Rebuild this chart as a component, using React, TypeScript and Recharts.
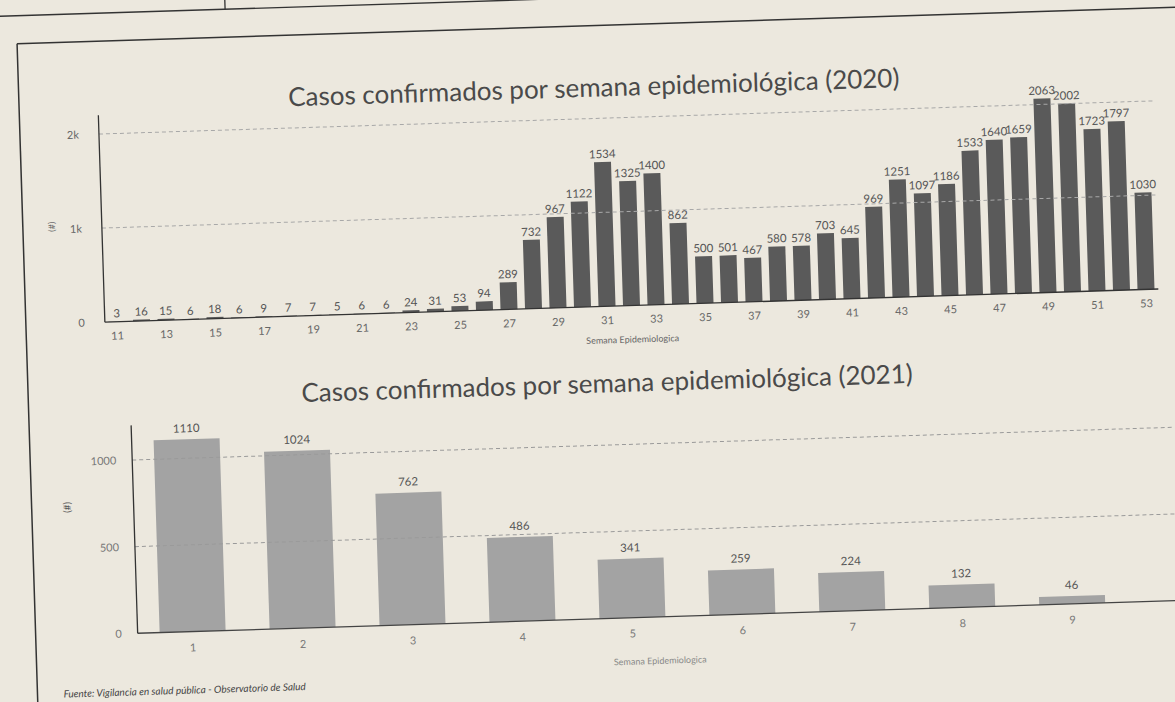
import React from 'react';
import { BarChart, Bar, XAxis, YAxis, ReferenceLine, LabelList } from 'recharts';

const weeks2020 = ['11','12','13','14','15','16','17','18','19','20','21','22','23','24','25','26','27','28','29','30','31','32','33','34','35','36','37','38','39','40','41','42','43','44','45','46','47','48','49','50','51','52','53'];
const cases2020 = [3,16,15,6,18,6,9,7,7,5,6,6,24,31,53,94,289,732,967,1122,1534,1325,1400,862,500,501,467,580,578,703,645,969,1251,1097,1186,1533,1640,1659,2063,2002,1723,1797,1030];
const ticks2020 = [0, 1000, 2000];
const tickLabels2020 = ['0', '1k', '2k'];

const weeks2021 = ['1','2','3','4','5','6','7','8','9'];
const cases2021 = [1110,1024,762,486,341,259,224,132,46];
const ticks2021 = [0, 500, 1000];

const title2020 = 'Casos confirmados por semana epidemiológica (2020)';
const title2021 = 'Casos confirmados por semana epidemiológica (2021)';
const xTitle = 'Semana Epidemiologica';
const source = 'Fuente: Vigilancia en salud pública - Observatorio de Salud';

const data2020 = weeks2020.map((w, i) => ({ week: w, cases: cases2020[i] }));
const data2021 = weeks2021.map((w, i) => ({ week: w, cases: cases2021[i] }));

const FONT = 'Lato, "Open Sans", sans-serif';
const PAPER = '#ece8de';

export default function App() {
  return (
    <div style={{ position: 'fixed', left: 0, top: 0, width: 1175, height: 702, background: PAPER, overflow: 'hidden', fontFamily: FONT }}>
      <div style={{ position: 'absolute', left: 0, top: 0, width: 1175, height: 702, transform: 'rotate(-1.8deg)', transformOrigin: '587px 351px' }}>
        <svg width={1175} height={702} style={{ position: 'absolute', left: 0, top: 0, overflow: 'visible' }}>
          <line x1={-20} y1={-2} x2={600} y2={-2} stroke="#333" strokeWidth={1.3} />
          <line x1={8} y1={-30} x2={8} y2={-2} stroke="#333" strokeWidth={1.3} />
          <line x1={236} y1={-30} x2={236} y2={-2} stroke="#333" strokeWidth={1.3} />
          <line x1={27} y1={26} x2={1200} y2={26} stroke="#333" strokeWidth={1.5} />
          <line x1={27} y1={26} x2={27} y2={720} stroke="#333" strokeWidth={1.5} />
          <text x={602} y={97} textAnchor="middle" fontSize={26} fill="#4a4a4a" fontFamily={FONT}>{title2020}</text>
          <text x={606} y={393} textAnchor="middle" fontSize={26} fill="#4a4a4a" fontFamily={FONT}>{title2021}</text>
          <text x={59} y={210} textAnchor="middle" fontSize={9} fill="#666" fontFamily={FONT} transform="rotate(-90 59 210)">(#)</text>
          <text x={66} y={491} textAnchor="middle" fontSize={10} fill="#555" fontFamily={FONT} transform="rotate(-90 66 491)">(#)</text>
          <text x={53} y={681} fontSize={10} fontStyle="italic" fill="#444" fontFamily={FONT}>{source}</text>
        </svg>

        <div style={{ position: 'absolute', left: 0, top: 0 }}>
          <BarChart width={1175} height={360} data={data2020} margin={{ top: 100, right: 15, left: 0, bottom: 20 }} barCategoryGap="15%">
            <XAxis dataKey="week" interval={1} height={33} tickLine={false} axisLine={{ stroke: '#333', strokeWidth: 1.3 }}
              tick={{ fontSize: 11, fill: '#666', fontFamily: FONT }} tickMargin={4}
              label={{ value: xTitle, position: 'insideBottom', offset: -4, fontSize: 9, fill: '#666', fontFamily: FONT }} />
            <YAxis width={106} domain={[0, 2200]} ticks={ticks2020} tickLine={false} axisLine={{ stroke: '#333', strokeWidth: 1.3 }}
              tickFormatter={(v: number) => tickLabels2020[ticks2020.indexOf(v)] ?? ''}
              tick={{ fontSize: 11, fill: '#666', fontFamily: FONT }} tickMargin={14} />
            {ticks2020.filter((t) => t > 0).map((t) => (
              <ReferenceLine key={t} y={t} stroke="#a8a8a8" strokeDasharray="4 3" />
            ))}
            <Bar dataKey="cases" fill="#5a5a5a" isAnimationActive={false}>
              <LabelList dataKey="cases" position="top" offset={4} style={{ fontSize: 11.5, fill: '#555', fontFamily: FONT }} />
            </Bar>
          </BarChart>
        </div>

        <div style={{ position: 'absolute', left: 0, top: 350 }}>
          <BarChart width={1175} height={320} data={data2021} margin={{ top: 61, right: 3, left: 0, bottom: 18 }} barCategoryGap="20%">
            <XAxis dataKey="week" height={33} padding={{ left: 0, right: 53 }} tickLine={false} axisLine={{ stroke: '#444', strokeWidth: 1.3 }}
              tick={{ fontSize: 11, fill: '#777', fontFamily: FONT }} tickMargin={6}
              label={{ value: xTitle, position: 'insideBottom', offset: -14, fontSize: 9, fill: '#888', fontFamily: FONT }} />
            <YAxis width={129} domain={[0, 1200]} ticks={ticks2021} tickLine={false} axisLine={{ stroke: '#333', strokeWidth: 1.3 }}
              tick={{ fontSize: 11, fill: '#777', fontFamily: FONT }} tickMargin={10} />
            {ticks2021.filter((t) => t > 0).map((t) => (
              <ReferenceLine key={t} y={t} stroke="#9a9a9a" strokeDasharray="4 3" />
            ))}
            <Bar dataKey="cases" fill="#a3a3a3" isAnimationActive={false}>
              <LabelList dataKey="cases" position="top" offset={7} style={{ fontSize: 11.5, fill: '#555', fontFamily: FONT }} />
            </Bar>
          </BarChart>
        </div>
      </div>
    </div>
  );
}
